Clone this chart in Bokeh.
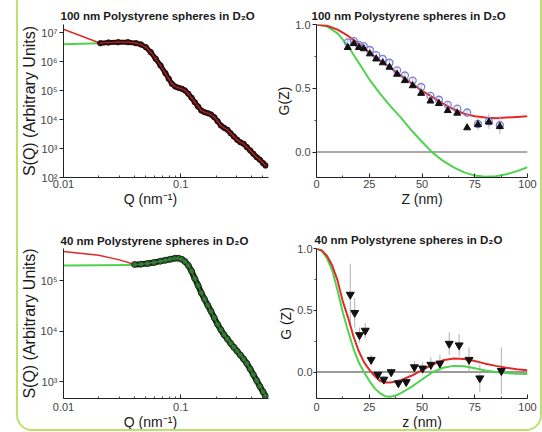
import numpy as np
from bokeh.plotting import figure
from bokeh.models import (FixedTicker, PrintfTickFormatter, CustomJSTickFormatter,
                          Range1d, InlineStyleSheet, Spacer)
from bokeh.layouts import row, column
from bokeh.embed import file_html
from bokeh.resources import INLINE

# ---------------- data ----------------
# Panel 1: 100 nm spheres, S(Q)
q1 = [0.0206, 0.0242, 0.0293, 0.0355, 0.0416, 0.0458, 0.0504, 0.0555, 0.0611, 0.0672,
      0.0740, 0.0790, 0.0841, 0.0897, 0.0957, 0.102, 0.1086, 0.116, 0.1236, 0.1316,
      0.1404, 0.1496, 0.1594, 0.170, 0.181, 0.193, 0.206, 0.220, 0.234, 0.250, 0.266,
      0.2835, 0.3026, 0.322, 0.3435, 0.3665, 0.391, 0.416, 0.444, 0.473, 0.504, 0.528]
s1 = [4.28e6, 4.52e6, 4.63e6, 4.63e6, 4.28e6, 3.86e6, 3.12e6, 2.09e6, 1.24e6, 7.28e5,
      3.95e5, 2.53e5, 1.70e5, 1.37e5, 1.24e5, 1.15e5, 1.0e5, 7.7e4, 5.6e4, 3.95e4,
      2.81e4, 2.04e4, 1.79e4, 1.65e4, 1.49e4, 1.20e4, 8.73e3, 6.21e3, 5.17e3, 4.41e3,
      3.37e3, 2.59e3, 2.0e3, 1.65e3, 1.45e3, 1.11e3, 853, 656, 501, 408, 311, 259]
red_q1_low = [0.01, 0.0206]
red_s1_low = [1.3e7, 4.28e6]
green_q1_low = [0.01, 0.0206]
green_s1_low = [3.95e6, 4.28e6]

# Panel 2: 100 nm spheres, G(Z)
z2_tri = [14.8, 17.7, 20.1, 22.4, 25.3, 28.3, 31.4, 34.6, 38.2, 41.9, 45.6, 49.6,
          54.0, 58.0, 62.2, 66.7, 71.4, 76.5, 81.7, 86.9]
g2_tri = [0.82, 0.85, 0.82, 0.81, 0.77, 0.73, 0.70, 0.665, 0.61, 0.56, 0.52, 0.46,
          0.40, 0.38, 0.325, 0.305, 0.19, 0.215, 0.235, 0.20]
g2_circ = [0.86, 0.87, 0.84, 0.83, 0.80, 0.76, 0.73, 0.70, 0.64, 0.60, 0.56, 0.51,
           0.44, 0.41, 0.37, 0.34, 0.31, 0.22, 0.24, 0.21]
e2 = [0.03, 0.02, 0.02, 0.02, 0.02, 0.02, 0.02, 0.02, 0.02, 0.02, 0.02, 0.02,
      0.02, 0.02, 0.02, 0.02, 0.03, 0.05, 0.06, 0.07]
z2_fit = [0, 5, 10, 15, 20, 25, 30, 35, 40, 45, 50, 55, 60, 65, 70, 75, 80, 85, 90, 95, 100]
g2_red = [1.0, 0.99, 0.96, 0.91, 0.85, 0.78, 0.72, 0.66, 0.60, 0.54, 0.48, 0.43,
          0.38, 0.335, 0.30, 0.28, 0.27, 0.265, 0.27, 0.275, 0.28]
g2_green = [1.0, 0.985, 0.93, 0.83, 0.70, 0.57, 0.46, 0.36, 0.27, 0.17, 0.08, -0.005,
            -0.07, -0.12, -0.16, -0.185, -0.195, -0.19, -0.175, -0.15, -0.12]

# Panel 3: 40 nm spheres, S(Q)
q3 = [0.0403, 0.0458, 0.0521, 0.0592, 0.0672, 0.0740, 0.0815, 0.0897, 0.0957, 0.102,
      0.1086, 0.116, 0.1236, 0.1316, 0.1404, 0.1496, 0.1594, 0.170, 0.181, 0.193,
      0.206, 0.220, 0.234, 0.250, 0.266, 0.2835, 0.3026, 0.322, 0.3435, 0.3665,
      0.391, 0.416, 0.444, 0.473, 0.504, 0.528]
s3 = [2.11e5, 2.14e5, 2.20e5, 2.31e5, 2.45e5, 2.56e5, 2.67e5, 2.80e5, 2.80e5, 2.67e5,
      2.41e5, 2.02e5, 1.56e5, 1.11e5, 8.11e4, 5.77e4, 4.34e4, 3.27e4, 2.50e4, 1.85e4,
      1.38e4, 1.07e4, 8.55e3, 7.06e3, 5.79e3, 4.84e3, 4.05e3, 3.39e3, 2.83e3, 2.31e3,
      1.79e3, 1.39e3, 1.06e3, 811, 631, 519]
red_q3_low = [0.01, 0.02, 0.03, 0.0403]
red_s3_low = [3.8e5, 3.2e5, 2.6e5, 2.11e5]
green_q3_low = [0.01, 0.0403]
green_s3_low = [2.0e5, 2.05e5]

# Panel 4: 40 nm spheres, G(z)
z4 = [16.0, 18.1, 20.4, 23.1, 25.9, 29.1, 31.9, 35.4, 38.8, 42.5, 46.4, 50.3, 54.2,
      58.5, 62.9, 67.6, 72.3, 77.4, 87.6]
g4 = [0.627, 0.48, 0.30, 0.336, 0.10, -0.02, -0.06, 0.00, -0.09, -0.08, 0.04, 0.03,
      0.06, 0.07, 0.23, 0.217, 0.10, -0.05, 0.01]
e4 = [0.25, 0.12, 0.06, 0.06, 0.04, 0.03, 0.03, 0.03, 0.03, 0.03, 0.05, 0.05, 0.06,
      0.07, 0.09, 0.09, 0.10, 0.11, 0.19]
z4_fit = [0, 2.5, 5, 7.5, 10, 12.5, 15, 17.5, 20, 22.5, 25, 27.5, 30, 32.5, 35, 37.5,
          40, 45, 50, 55, 60, 65, 70, 75, 80, 85, 90, 95, 100]
g4_red = [1.0, 0.985, 0.94, 0.86, 0.74, 0.57, 0.44, 0.29, 0.17, 0.08, 0.02, -0.03,
          -0.07, -0.085, -0.085, -0.077, -0.065, -0.03, 0.015, 0.06, 0.095, 0.11,
          0.105, 0.09, 0.068, 0.05, 0.035, 0.022, 0.015]
g4_green = [1.0, 0.98, 0.92, 0.82, 0.66, 0.48, 0.33, 0.19, 0.08, 0.0, -0.07, -0.13,
            -0.17, -0.195, -0.2, -0.19, -0.17, -0.12, -0.06, 0.0, 0.035, 0.05, 0.047,
            0.03, 0.012, 0.0, -0.008, -0.013, -0.015]

titles = ["100 nm Polystyrene spheres in D\u2082O", "100 nm Polystyrene spheres in D\u2082O",
          "40 nm Polystyrene spheres in D\u2082O", "40 nm Polystyrene spheres in D\u2082O"]
PAD = "\u00a0" * 8
xlabels = ["Q (nm\u207b\u00b9)" + PAD, "Z (nm)", "Q (nm\u207b\u00b9)" + PAD, "z (nm)"]
ylabels = ["S(Q) (Arbitrary Units)", "G(Z)", "S(Q) (Arbitrary Units)", "G (Z)"]

# ---------------- styling helpers ----------------
FONT = "Liberation Sans"
RED = "#e02a2a"
GREEN = "#4fd24f"


def make_fig(w, h, bl, br, bt, bb, xr, yr, xlog, ylog, title, xlab, ylab,
             ylab_size, xstand, ystand, ytick_stand, title_off, title_stand):
    p = figure(width=w, height=h, x_range=Range1d(*xr), y_range=Range1d(*yr),
               x_axis_type="log" if xlog else "linear",
               y_axis_type="log" if ylog else "linear",
               output_backend="svg", toolbar_location=None,
               min_border_left=bl, min_border_right=br, min_border_top=bt, min_border_bottom=bb)
    p.outline_line_color = None
    p.grid.visible = False
    p.border_fill_color = None
    p.background_fill_color = "white"
    p.title.text = title
    p.title.text_font = FONT
    p.title.text_font_size = "11.5px"
    p.title.text_font_style = "bold"
    p.title.text_color = "#1a1a1a"
    p.title.align = "left"
    p.title.offset = title_off
    p.title.standoff = title_stand
    for ax in (p.xaxis[0], p.yaxis[0]):
        ax.axis_line_color = "#222222"
        ax.major_tick_line_color = "#222222"
        ax.minor_tick_line_color = "#444444"
        ax.major_label_text_font = FONT
        ax.major_label_text_font_size = "11px"
        ax.major_label_text_color = "#444444"
        ax.axis_label_text_font = FONT
        ax.axis_label_text_font_style = "normal"
        ax.axis_label_text_color = "#1a1a1a"
    xa, ya = p.xaxis[0], p.yaxis[0]
    xa.major_tick_in, xa.major_tick_out = 4, 0
    xa.minor_tick_in, xa.minor_tick_out = 2, 0
    ya.major_tick_in, ya.major_tick_out = 0, 4
    ya.minor_tick_in, ya.minor_tick_out = 0, 2
    xa.major_label_standoff = xstand
    ya.major_label_standoff = ytick_stand
    xa.axis_label = xlab
    xa.axis_label_text_font_size = "14px"
    xa.axis_label_standoff = 0
    ya.axis_label = ylab
    ya.axis_label_text_font_size = ylab_size
    ya.axis_label_standoff = ystand
    return p


sup_fmt = CustomJSTickFormatter(code="""
const sup = {"0":"\u2070","1":"\u00b9","2":"\u00b2","3":"\u00b3","4":"\u2074",
             "5":"\u2075","6":"\u2076","7":"\u2077","8":"\u2078","9":"\u2079","-":"\u207b"};
const e = Math.round(Math.log10(tick));
return "10" + String(e).split("").map(c => sup[c]).join("");
""")
q_fmt = CustomJSTickFormatter(code="return String(Number(tick.toPrecision(1)));")
minor_q = [0.02, 0.03, 0.04, 0.05, 0.06, 0.07, 0.08, 0.09, 0.2, 0.3, 0.4, 0.5]
XR_Q = (0.01, 0.56)
SPACE = 17
W_LEFT, W_RIGHT = 269 - SPACE, 273

# ---------------- panel 1 ----------------
p1 = make_fig(W_LEFT, 215, 63 - SPACE, 1, 24, 38, XR_Q, (100, 1.89e7), True, True,
              titles[0], xlabels[0], ylabels[0], "16px", 2, 0, 2, -3, 6)
p1.xaxis.ticker = FixedTicker(ticks=[0.01, 0.1], minor_ticks=minor_q)
p1.xaxis.formatter = q_fmt
p1.yaxis.ticker = FixedTicker(ticks=[1e2, 1e3, 1e4, 1e5, 1e6, 1e7], minor_ticks=[])
p1.yaxis.formatter = sup_fmt
p1.line(green_q1_low, green_s1_low, line_color=GREEN, line_width=2)
p1.line(red_q1_low, red_s1_low, line_color=RED, line_width=1.5)
p1.line(q1, s1, line_color="#2a0c0c", line_width=5)
p1.scatter(q1, s1, size=5.5, fill_color="#3a1414", line_color="#1e0808", line_width=0.8)
p1.line(q1, s1, line_color="#c83030", line_width=1.2, line_alpha=0.8)

# ---------------- panel 2 ----------------
xr2, yr2 = (0, 100), (-0.2, 1.0)
p2 = make_fig(W_RIGHT, 215, 47, 15, 24, 38, xr2, yr2, False, False,
              titles[1], xlabels[1], ylabels[1], "14px", 2, 0, 2, -5, 5)
p2.xaxis.ticker = FixedTicker(ticks=[0, 25, 50, 75, 100], minor_ticks=[12.5, 37.5, 62.5, 87.5])
p2.xaxis.formatter = PrintfTickFormatter(format="%d")
p2.yaxis.ticker = FixedTicker(ticks=[0.0, 0.5, 1.0], minor_ticks=[0.25, 0.75])
p2.yaxis.formatter = PrintfTickFormatter(format="%.1f")
p2.line(xr2, [0, 0], line_color="#555555", line_width=1)
p2.line(z2_fit, g2_green, line_color=GREEN, line_width=2)
p2.line(z2_fit, g2_red, line_color=RED, line_width=2)
y_lo2 = [g - e for g, e in zip(g2_circ, e2)]
y_hi2 = [g + e for g, e in zip(g2_circ, e2)]
p2.segment(z2_tri, y_lo2, z2_tri, y_hi2, line_color="#b8b8c8", line_width=1)
p2.scatter(z2_tri, g2_circ, marker="circle", size=7, fill_color=None, line_color="#7d7fd6", line_width=1.3)
p2.scatter(z2_tri, g2_tri, marker="triangle", size=7, fill_color="#111111", line_color="#111111")

# ---------------- panel 3 ----------------
p3 = make_fig(W_LEFT, 217, 63 - SPACE, 1, 33, 32, XR_Q, (10 ** 2.67, 10 ** 5.64), True, True,
              titles[2], xlabels[2], ylabels[2], "16px", 4, 0, 2, -3, 4)
p3.xaxis.ticker = FixedTicker(ticks=[0.01, 0.1], minor_ticks=minor_q)
p3.xaxis.formatter = q_fmt
p3.yaxis.ticker = FixedTicker(ticks=[1e3, 1e4, 1e5], minor_ticks=[])
p3.yaxis.formatter = sup_fmt
p3.line(green_q3_low, green_s3_low, line_color=GREEN, line_width=2)
p3.line(red_q3_low, red_s3_low, line_color=RED, line_width=1.5)
p3.line(q3, s3, line_color="#132613", line_width=6)
p3.scatter(q3, s3, size=6, fill_color="#2f6a2f", line_color="#142414", line_width=0.8)
p3.line(q3, s3, line_color="#3d8a3d", line_width=1.5, line_alpha=0.8)

# ---------------- panel 4 ----------------
xr4, yr4 = (0, 100), (-0.214, 1.0)
p4 = make_fig(W_RIGHT, 217, 47, 15, 33, 32, xr4, yr4, False, False,
              titles[3], xlabels[3], ylabels[3], "14px", 4, 0, 1, -2, 5)
p4.yaxis[0].major_tick_out = 3
p4.xaxis.ticker = FixedTicker(ticks=[0, 25, 50, 75, 100], minor_ticks=[12.5, 37.5, 62.5, 87.5])
p4.xaxis.formatter = PrintfTickFormatter(format="%d")
p4.yaxis.ticker = FixedTicker(ticks=[0.0, 0.5, 1.0], minor_ticks=[0.25, 0.75])
p4.yaxis.formatter = PrintfTickFormatter(format="%.1f")
p4.line(xr4, [0, 0], line_color="#9a9a9a", line_width=2)
y_lo4 = [g - e for g, e in zip(g4, e4)]
y_hi4 = [g + e for g, e in zip(g4, e4)]
p4.segment(z4, y_lo4, z4, y_hi4, line_color="#b0b0b0", line_width=1)
p4.line(z4_fit, g4_green, line_color=GREEN, line_width=2)
p4.line(z4_fit, g4_red, line_color=RED, line_width=2)
p4.scatter(z4, g4, marker="inverted_triangle", size=8, fill_color="#111111", line_color="#111111")

layout = row(Spacer(width=SPACE, height=432), column(p1, p3), column(p2, p4))
layout.stylesheets = [InlineStyleSheet(css="""
:host { position: relative; overflow: visible; }
:host::after { content: ""; position: absolute; left: 16px; top: -30px; width: 526px; height: 461px;
  border: 2px solid #bde06c; border-radius: 16px; box-sizing: border-box; pointer-events: none; }
""")]

open("out.html", "w").write(file_html(layout, INLINE))
